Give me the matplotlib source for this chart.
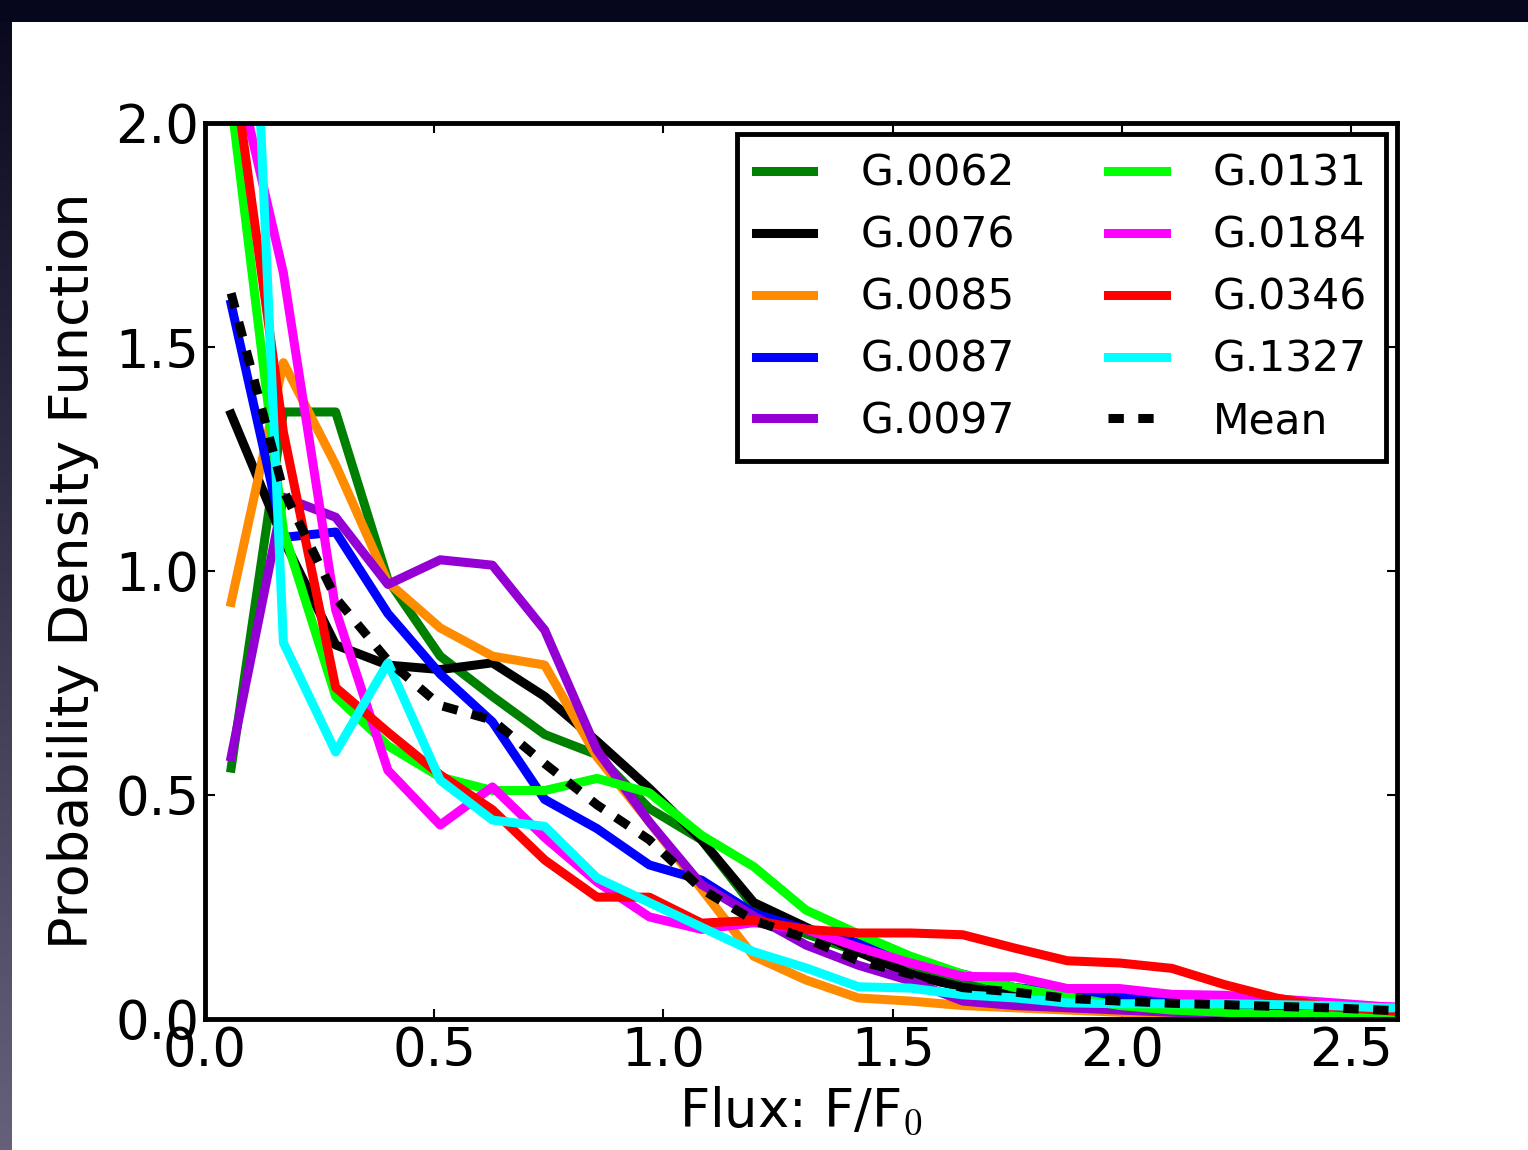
import numpy as np
import matplotlib
matplotlib.use('Agg')
import matplotlib.pyplot as plt
from matplotlib.patches import Rectangle

plt.rcParams['font.family'] = ['DejaVu Sans']
plt.rcParams['mathtext.fontset'] = 'cm'

# bin centres of the flux histogram
flux = [0.057, 0.171, 0.285, 0.399, 0.513, 0.627, 0.741, 0.855, 0.969, 1.083, 1.197, 1.311,
        1.425, 1.539, 1.653, 1.767, 1.881, 1.995, 2.109, 2.223, 2.337, 2.451, 2.565, 2.679]

g0062 = [0.56, 1.355, 1.355, 0.98, 0.81, 0.72, 0.635, 0.59, 0.47, 0.40, 0.25, 0.19,
         0.15, 0.11, 0.085, 0.07, 0.06, 0.05, 0.04, 0.03, 0.02, 0.015, 0.01, 0.01]
g0076 = [1.35, 1.07, 0.835, 0.79, 0.78, 0.795, 0.72, 0.62, 0.515, 0.40, 0.26, 0.205,
         0.15, 0.10, 0.07, 0.055, 0.045, 0.035, 0.03, 0.02, 0.02, 0.015, 0.01, 0.01]
g0085 = [0.93, 1.465, 1.237, 0.975, 0.873, 0.81, 0.79, 0.585, 0.44, 0.29, 0.14, 0.087,
         0.047, 0.04, 0.03, 0.025, 0.02, 0.015, 0.01, 0.01, 0.005, 0.005, 0.005, 0.005]
g0087 = [1.596, 1.075, 1.087, 0.905, 0.77, 0.663, 0.49, 0.425, 0.344, 0.31, 0.236, 0.20,
         0.17, 0.13, 0.10, 0.07, 0.055, 0.05, 0.045, 0.04, 0.035, 0.03, 0.025, 0.02]
g0097 = [0.585, 1.165, 1.12, 0.97, 1.025, 1.013, 0.868, 0.60, 0.44, 0.30, 0.23, 0.165,
         0.12, 0.085, 0.04, 0.03, 0.025, 0.02, 0.015, 0.01, 0.005, 0.005, 0.005, 0.005]
g0131 = [2.05, 1.09, 0.72, 0.61, 0.54, 0.51, 0.51, 0.537, 0.505, 0.41, 0.34, 0.243,
         0.19, 0.14, 0.10, 0.07, 0.05, 0.03, 0.02, 0.015, 0.01, 0.01, 0.01, 0.01]
g0184 = [2.17, 1.665, 0.913, 0.555, 0.433, 0.518, 0.405, 0.306, 0.228, 0.20, 0.215, 0.20,
         0.16, 0.125, 0.095, 0.094, 0.068, 0.068, 0.055, 0.053, 0.045, 0.037, 0.028, 0.025]
g0346 = [2.16, 1.31, 0.74, 0.64, 0.545, 0.467, 0.355, 0.272, 0.272, 0.214, 0.22, 0.20,
         0.192, 0.192, 0.188, 0.158, 0.13, 0.125, 0.113, 0.077, 0.047, 0.027, 0.02, 0.01]
g1327 = [3.5, 0.84, 0.596, 0.795, 0.533, 0.444, 0.43, 0.315, 0.26, 0.205, 0.15, 0.114,
         0.072, 0.069, 0.054, 0.047, 0.036, 0.034, 0.034, 0.034, 0.032, 0.03, 0.025, 0.025]
mean = [1.62, 1.18, 0.94, 0.80, 0.70, 0.667, 0.57, 0.478, 0.40, 0.29, 0.22, 0.18,
        0.13, 0.10, 0.07, 0.06, 0.046, 0.04, 0.035, 0.032, 0.028, 0.025, 0.02, 0.015]

series = [
    ('G.0062', g0062, 'green'),
    ('G.0076', g0076, 'black'),
    ('G.0085', g0085, 'darkorange'),
    ('G.0087', g0087, 'blue'),
    ('G.0097', g0097, 'darkviolet'),
    ('G.0131', g0131, 'lime'),
    ('G.0184', g0184, 'magenta'),
    ('G.0346', g0346, 'red'),
    ('G.1327', g1327, 'cyan'),
]

W, H = 1528, 1150
fig = plt.figure(figsize=(W / 100, H / 100), dpi=100, facecolor='white')

# slide frame: dark band on top, gradient strip on the left
fig.patches.append(Rectangle((0, 1 - 22 / H), 1, 22 / H, transform=fig.transFigure,
                             facecolor='#06061c', edgecolor='none', zorder=0))
strip = fig.add_axes([0, 0, 12 / W, 1 - 22 / H])
grad = np.linspace(0, 1, 256).reshape(-1, 1)
top_c = np.array([0.04, 0.04, 0.12])
bot_c = np.array([0.40, 0.38, 0.48])
img = top_c + (bot_c - top_c) * grad[..., None]
strip.imshow(img, aspect='auto', extent=[0, 1, 0, 1], origin='upper')
strip.axis('off')

ax = fig.add_axes([205 / W, 131 / H, 1192 / W, 896 / H])
lw = 6.5
for name, vals, color in series:
    ax.plot(flux, vals, color=color, lw=lw, label=name)
ax.plot(flux, mean, color='black', lw=lw, dashes=(1.7, 1.6), label='Mean')

ax.set_xlim(0, 2.6)
ax.set_ylim(0, 2.0)
ax.set_xticks([0.0, 0.5, 1.0, 1.5, 2.0, 2.5])
ax.set_yticks([0.0, 0.5, 1.0, 1.5, 2.0])
ax.tick_params(direction='in', length=7, width=1.5, top=True, right=True,
               labelsize=38, pad=4)
for sp in ax.spines.values():
    sp.set_linewidth(3.5)

ax.set_xlabel('Flux: F/F$_0$', fontsize=38, labelpad=6)
ax.set_ylabel('Probability Density Function', fontsize=39, labelpad=12)

leg = ax.legend(ncol=2, loc='upper right', fontsize=30.5, handlelength=1.35,
                handletextpad=1.12, columnspacing=2.2, labelspacing=0.47,
                borderaxespad=0.25, fancybox=False, framealpha=1, borderpad=0.45)
leg.get_frame().set_edgecolor('black')
leg.get_frame().set_linewidth(3.5)

plt.savefig('out.png', dpi=100, facecolor=fig.get_facecolor())
